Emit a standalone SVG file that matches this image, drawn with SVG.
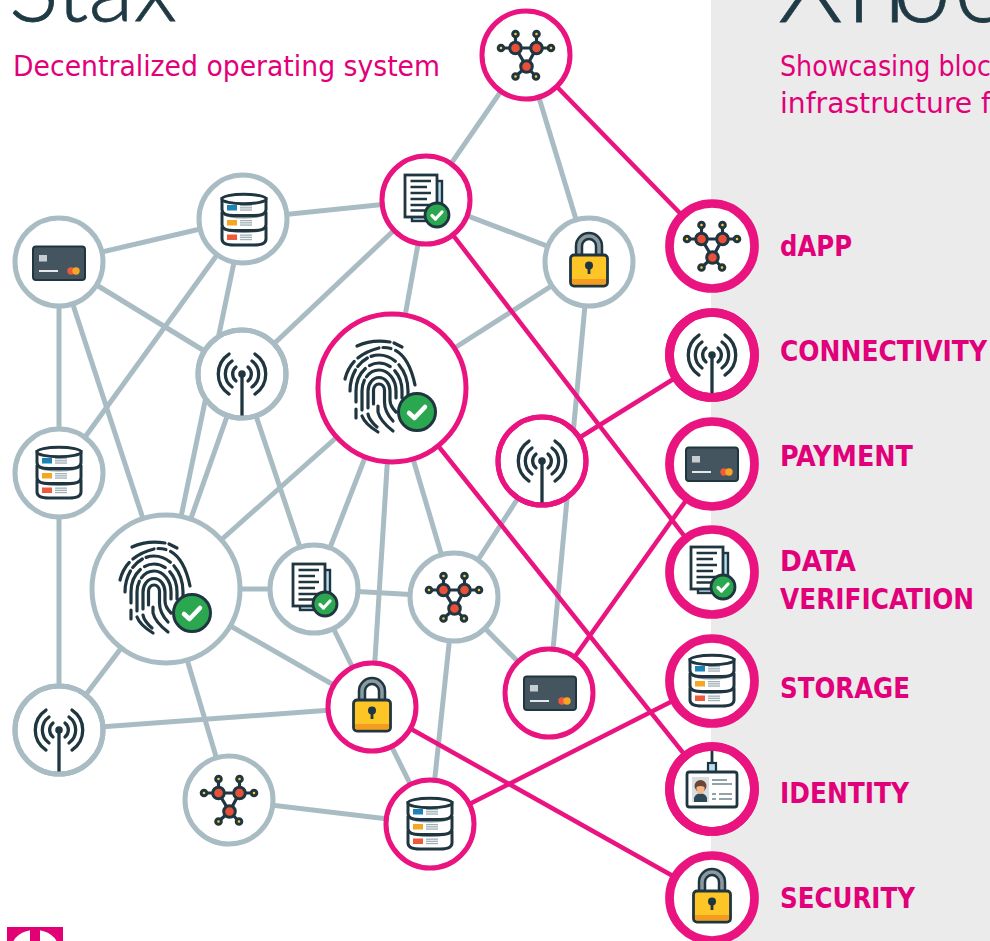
<svg xmlns="http://www.w3.org/2000/svg" width="990" height="941" viewBox="0 0 990 941">
<style>
.bg{fill:#ebebeb}
.g line{stroke:#a9bcc3;stroke-width:5}
.p line{stroke:#e9147f;stroke-width:4.5}
.ng{fill:#fff;stroke:#a9bcc3;stroke-width:5}
.np{fill:#fff;stroke:#e9147f;stroke-width:5}
.nr{fill:#fff;stroke:#e9147f;stroke-width:8.7}
.rg{fill:none;stroke:#a9bcc3;stroke-width:5}
.rp{fill:none;stroke:#e9147f;stroke-width:5}
.rr{fill:none;stroke:#e9147f;stroke-width:8.7}
.d{stroke:#1f3640;fill:none;stroke-linecap:round;stroke-linejoin:round}
.title{font-family:"Lato","Liberation Sans",sans-serif;font-weight:300;fill:#1f3a44;stroke:#1f3a44;stroke-width:.8}
.sub{font-family:"DejaVu Sans","Liberation Sans",sans-serif;font-stretch:condensed;font-size:28px;fill:#e2007a}
.lab{font-family:"DejaVu Sans","Liberation Sans",sans-serif;font-stretch:condensed;font-weight:700;font-size:29px;fill:#e2007a}
</style>
<defs>
<g id="i-card">
<rect x="-26" y="-16.5" width="52" height="33.5" rx="3" fill="#44555f" stroke="#1f3640" stroke-width="2"/>
<rect x="-20" y="-8" width="8" height="6.500" fill="#c6ced2"/>
<rect x="-20" y="7" width="19" height="2" fill="#e4e8ea"/>
<circle cx="12" cy="8" r="3.7" fill="#ef5a3c"/><circle cx="17" cy="8" r="3.7" fill="#f5a623"/>
</g>
<g id="tier">
<path d="M-22,0 V11 Q-22,17 -10,17 H10 Q22,17 22,11 V0 Z" fill="#fff" stroke="#1f3640" stroke-width="3"/>
<rect x="-17" y="6.500" width="10" height="5.500"/>
<g fill="#9fb0b7"><rect x="-4" y="6.500" width="12" height="1.300"/><rect x="-4" y="8.700" width="12" height="1.300"/><rect x="-4" y="10.900" width="12" height="1.300"/></g>
</g>
<g id="i-storage">
<use href="#tier" y="8" fill="#ef5a3c"/>
<ellipse cx="0" cy="8.500" rx="21" ry="4.500" fill="#7d8e96"/>
<use href="#tier" y="-6.500" fill="#f5a623"/>
<ellipse cx="0" cy="-6" rx="21" ry="4.500" fill="#7d8e96"/>
<use href="#tier" y="-21.500" fill="#1b84b5"/>
<ellipse cx="0" cy="-21" rx="22" ry="4.800" fill="#fff" stroke="#1f3640" stroke-width="3"/>
</g>
<g id="i-radio">
<g class="d" stroke-width="3.3">
<path d="M0,0V44"/>
<path d="M-6,-7A9,9 0 0 0 -6,7M6,-7A9,9 0 0 1 6,7"/>
<path d="M-10,-13A16,16 0 0 0 -10,13M10,-13A16,16 0 0 1 10,13"/>
<path d="M-13,-20A24,24 0 0 0 -13,20M13,-20A24,24 0 0 1 13,20"/>
</g>
<circle r="3.800" fill="#1f3640"/>
</g>
<g id="i-dapp">
<g class="d" stroke-width="3.2">
<path d="M-10.5,-7H10.5L0.5,11.5Z"/>
<path d="M-10.5,-7V-21M10.5,-7V-21M-10.5,-7H-25M10.5,-7H25M0.5,11.5L-10.5,21.5M0.5,11.5L10,21.5"/>
</g>
<g fill="#ffcb2e" stroke="#1f3640" stroke-width="3">
<circle cx="-10.5" cy="-21" r="2.800"/><circle cx="10.5" cy="-21" r="2.800"/><circle cx="-25" cy="-7" r="2.800"/><circle cx="25" cy="-7" r="2.800"/><circle cx="-10.5" cy="21.5" r="2.800"/><circle cx="10" cy="21.5" r="2.800"/>
</g>
<g fill="#e8503a" stroke="#1f3640" stroke-width="3">
<circle cx="-10.5" cy="-7" r="5.800"/><circle cx="10.5" cy="-7" r="5.800"/><circle cx="0.5" cy="11.5" r="5.800"/>
</g>
</g>
<g id="i-lock">
<path d="M-10,-6V-16A10,10 0 0 1 10,-16V-6" fill="none" stroke="#1f3640" stroke-width="8.500"/>
<path d="M-10,-6V-16A10,10 0 0 1 10,-16V-6" fill="none" stroke="#8a9aa0" stroke-width="3.500"/>
<rect x="-18.5" y="-7" width="37" height="31" rx="3.5" fill="#fdc526" stroke="#1f3640" stroke-width="2.800"/>
<path d="M-17,17H17V20Q17,22.600 14.500,22.600H-14.500Q-17,22.600 -17,20Z" fill="#f39c1f"/>
<circle cy="3.500" r="4" fill="#1f3640"/><path d="M-1.400,5H1.400V12H-1.400Z" fill="#1f3640"/>
</g>
<g id="i-check">
<circle r="12" fill="#2ba84f" stroke="#1f3640" stroke-width="2.800"/>
<path d="M-5,0.5L-1.5,4L5,-3" fill="none" stroke="#fff" stroke-width="3.200" stroke-linecap="round" stroke-linejoin="round"/>
</g>
<g id="i-doc">
<rect x="-14" y="-19" width="30" height="40" fill="#b8ddf0" stroke="#1f3640" stroke-width="2.400"/>
<rect x="-21" y="-25" width="32" height="42" fill="#fff" stroke="#1f3640" stroke-width="2.800"/>
<path d="M-15.5,-19H5M-15.5,-13H1M-15.5,-7H5M-15.5,-1H1M-15.5,5H5M-15.5,10.500H1" stroke="#1f3640" stroke-width="2.600" fill="none"/>
<use href="#i-check" x="11" y="15"/>
</g>
<g id="i-fp">
<g class="d" stroke-width="3.200">
<path d="M-18.500,16V2A5.500,6 0 0 1 -7.500,2V14Q-7.500,24 1,33"/>
<path d="M-24,20V3A11,13.500 0 0 1 -2,3V12Q-2,18 4,24"/>
<path d="M-14,18V24Q-12,33 1,43"/>
<path d="M-24,26Q-23,32 -15,39"/>
<path d="M-30,22V3A17,21 0 0 1 4,3V10" stroke-dasharray="30 4 70"/>
<path d="M-30,28Q-27,36 -14,44"/>
<path d="M-36,14V3A23,28 0 0 1 10,3V10" stroke-dasharray="36 5 22 6 60"/>
<path d="M-36,21V30"/>
<path d="M-42,3A29,36 0 0 1 16,3V12" stroke-dasharray="22 4 13 4 26 5 60"/>
<path d="M-47,-9Q-41,-33 -13,-40" stroke-dasharray="20 5 40"/>
<path d="M-9,-40.500Q15,-41 23,-3" stroke-dasharray="8 5 60"/>
<path d="M-35,-42Q-20,-49 -2,-46"/>
<path d="M2,-45L10,-41"/>
</g>
<circle cx="25" cy="24" r="18.500" fill="#2ba84f" stroke="#1f3640" stroke-width="3"/>
<path d="M17,25L22.500,30L33,19" fill="none" stroke="#fff" stroke-width="4.500" stroke-linecap="round" stroke-linejoin="round"/>
</g>
<g id="i-id">
<path d="M0,-46V-26" stroke="#1f3640" stroke-width="2.800"/>
<rect x="-4" y="-26" width="8" height="9" fill="#b8ddf0" stroke="#1f3640" stroke-width="2.200"/>
<rect x="-25" y="-17" width="50" height="35" rx="2.500" fill="#fff" stroke="#1f3640" stroke-width="2.800"/>
<rect x="-20" y="-12" width="17" height="25" fill="#d8dfe2"/>
<path d="M-18,13V9Q-17,5 -11.500,4Q-6,5 -5,9V13Z" fill="#2f4858"/>
<circle cx="-11.500" cy="-3" r="6" fill="#6b4636"/>
<path d="M-15.500,-2Q-11.500,-4 -7.500,-2V1Q-8.500,5 -11.500,5Q-14.500,5 -15.500,1Z" fill="#f5b88a"/>
<g fill="#8fa3ab"><rect x="0" y="-10" width="15" height="2"/><rect x="0" y="-6" width="20" height="2"/><rect x="0" y="4" width="4" height="2"/><rect x="7" y="4" width="13" height="2"/><rect x="0" y="9" width="4" height="2"/><rect x="7" y="9" width="13" height="2"/></g>
</g>
</defs>
<rect class="bg" x="711" y="0" width="279" height="941"/>
<g id="connectors">
<g class="g">
<line x1="59" y1="262" x2="243" y2="219"/>
<line x1="59" y1="262" x2="242" y2="374"/>
<line x1="59" y1="262" x2="59" y2="473"/>
<line x1="59" y1="262" x2="166" y2="589"/>
<line x1="243" y1="219" x2="426" y2="200"/>
<line x1="243" y1="219" x2="59" y2="473"/>
<line x1="243" y1="219" x2="166" y2="589"/>
<line x1="242" y1="374" x2="426" y2="200"/>
<line x1="242" y1="374" x2="166" y2="589"/>
<line x1="242" y1="374" x2="314" y2="589"/>
<line x1="59" y1="473" x2="59" y2="730"/>
<line x1="526" y1="55" x2="426" y2="200"/>
<line x1="526" y1="55" x2="589" y2="262"/>
<line x1="426" y1="200" x2="589" y2="262"/>
<line x1="426" y1="200" x2="392" y2="388"/>
<line x1="589" y1="262" x2="392" y2="388"/>
<line x1="589" y1="262" x2="549" y2="693"/>
<line x1="392" y1="388" x2="166" y2="589"/>
<line x1="392" y1="388" x2="314" y2="589"/>
<line x1="392" y1="388" x2="454" y2="597"/>
<line x1="392" y1="388" x2="372" y2="707"/>
<line x1="166" y1="589" x2="314" y2="589"/>
<line x1="314" y1="589" x2="454" y2="597"/>
<line x1="314" y1="589" x2="372" y2="707"/>
<line x1="166" y1="589" x2="372" y2="707"/>
<line x1="166" y1="589" x2="59" y2="730"/>
<line x1="166" y1="589" x2="229" y2="800"/>
<line x1="59" y1="730" x2="372" y2="707"/>
<line x1="229" y1="800" x2="430" y2="824"/>
<line x1="372" y1="707" x2="430" y2="824"/>
<line x1="454" y1="597" x2="430" y2="824"/>
<line x1="454" y1="597" x2="542" y2="461"/>
<line x1="454" y1="597" x2="549" y2="693"/>
</g>
<g class="p">
<line x1="526" y1="55" x2="712" y2="246"/>
<line x1="426" y1="200" x2="712" y2="572"/>
<line x1="392" y1="388" x2="712" y2="789"/>
<line x1="542" y1="461" x2="712" y2="355"/>
<line x1="549" y1="693" x2="712" y2="464"/>
<line x1="430" y1="824" x2="712" y2="681"/>
<line x1="372" y1="707" x2="712" y2="898"/>
</g>
</g>
<g id="n-card1"><circle class="ng" cx="59" cy="262" r="44"/><use href="#i-card" x="59" y="263"/></g>
<g id="n-storage1"><circle class="ng" cx="243" cy="219" r="44"/><use href="#i-storage" x="244" y="220"/></g>
<g id="n-radio1"><circle class="ng" cx="242" cy="374" r="44"/><use href="#i-radio" x="242" y="374"/><circle class="rg" cx="242" cy="374" r="44"/></g>
<g id="n-storage2"><circle class="ng" cx="59" cy="473" r="44"/><use href="#i-storage" x="59" y="473"/></g>
<g id="n-radio2"><circle class="ng" cx="59" cy="730" r="44"/><use href="#i-radio" x="59" y="730"/><circle class="rg" cx="59" cy="730" r="44"/></g>
<g id="n-dapp1"><circle class="ng" cx="229" cy="800" r="44"/><use href="#i-dapp" x="229" y="800"/></g>
<g id="n-doc1"><circle class="ng" cx="314" cy="589" r="44"/><use href="#i-doc" x="314" y="589"/></g>
<g id="n-dapp2"><circle class="ng" cx="454" cy="597" r="44"/><use href="#i-dapp" x="454" y="597"/></g>
<g id="n-fp1"><circle class="ng" cx="166" cy="589" r="74"/><use href="#i-fp" x="167" y="589"/></g>
<g id="n-lock1"><circle class="ng" cx="589" cy="262" r="44"/><use href="#i-lock" x="589" y="262"/></g>
<g id="n-dapp3"><circle class="np" cx="526" cy="55" r="44"/><use href="#i-dapp" x="526" y="55"/></g>
<g id="n-doc2"><circle class="np" cx="426" cy="200" r="44"/><use href="#i-doc" x="426" y="200"/></g>
<g id="n-fp2"><circle class="np" cx="392" cy="388" r="74"/><use href="#i-fp" x="392" y="388"/></g>
<g id="n-radio3"><circle class="np" cx="542" cy="461" r="44"/><use href="#i-radio" x="542" y="461"/><circle class="rp" cx="542" cy="461" r="44"/></g>
<g id="n-card2"><circle class="np" cx="549" cy="693" r="44"/><use href="#i-card" x="550" y="693"/></g>
<g id="n-lock2"><circle class="np" cx="372" cy="707" r="44"/><use href="#i-lock" x="372" y="707"/></g>
<g id="n-storage3"><circle class="np" cx="430" cy="824" r="44"/><use href="#i-storage" x="430" y="824"/></g>
<g id="r-dapp"><circle class="nr" cx="712" cy="246" r="42.500"/><use href="#i-dapp" x="712" y="246"/></g>
<g id="r-radio"><circle class="nr" cx="712" cy="355" r="42.500"/><use href="#i-radio" x="712" y="355"/><circle class="rr" cx="712" cy="355" r="42.500"/></g>
<g id="r-card"><circle class="nr" cx="712" cy="464" r="42.500"/><use href="#i-card" x="712" y="464"/></g>
<g id="r-doc"><circle class="nr" cx="712" cy="572" r="42.500"/><use href="#i-doc" x="712" y="572"/></g>
<g id="r-storage"><circle class="nr" cx="712" cy="681" r="42.500"/><use href="#i-storage" x="712" y="681"/></g>
<g id="r-id"><circle class="nr" cx="712" cy="789" r="42.500"/><use href="#i-id" x="712" y="789"/><circle class="rr" cx="712" cy="789" r="42.500"/></g>
<g id="r-lock"><circle class="nr" cx="712" cy="898" r="42.500"/><use href="#i-lock" x="712" y="898"/></g>
<text class="title" font-size="92" x="9" y="21" textLength="168" lengthAdjust="spacingAndGlyphs">Stax</text>
<text class="title" font-size="104" x="778 848 893 954" y="22">Xnoe</text>
<text class="sub" x="13" y="75.500" textLength="427" lengthAdjust="spacingAndGlyphs">Decentralized operating system</text>
<text class="sub" x="780" y="75.500" textLength="211" lengthAdjust="spacingAndGlyphs">Showcasing bloc</text>
<text class="sub" x="780" y="112.500" textLength="211" lengthAdjust="spacingAndGlyphs">infrastructure f</text>
<text class="lab" x="780" y="256" textLength="72" lengthAdjust="spacingAndGlyphs">dAPP</text>
<text class="lab" x="780" y="361" textLength="207" lengthAdjust="spacingAndGlyphs">CONNECTIVITY</text>
<text class="lab" x="780" y="466" textLength="133" lengthAdjust="spacingAndGlyphs">PAYMENT</text>
<text class="lab" x="780" y="571" textLength="76" lengthAdjust="spacingAndGlyphs">DATA</text>
<text class="lab" x="780" y="609" textLength="194" lengthAdjust="spacingAndGlyphs">VERIFICATION</text>
<text class="lab" x="780" y="698" textLength="130" lengthAdjust="spacingAndGlyphs">STORAGE</text>
<text class="lab" x="780" y="803" textLength="129" lengthAdjust="spacingAndGlyphs">IDENTITY</text>
<text class="lab" x="780" y="908" textLength="135" lengthAdjust="spacingAndGlyphs">SECURITY</text>
<g id="logo">
<rect x="7" y="927" width="56" height="14" fill="#e20074"/>
<ellipse cx="35" cy="947" rx="23" ry="17" fill="#fff"/>
<rect x="30" y="927" width="10" height="14" fill="#e20074"/>
</g>
</svg>
